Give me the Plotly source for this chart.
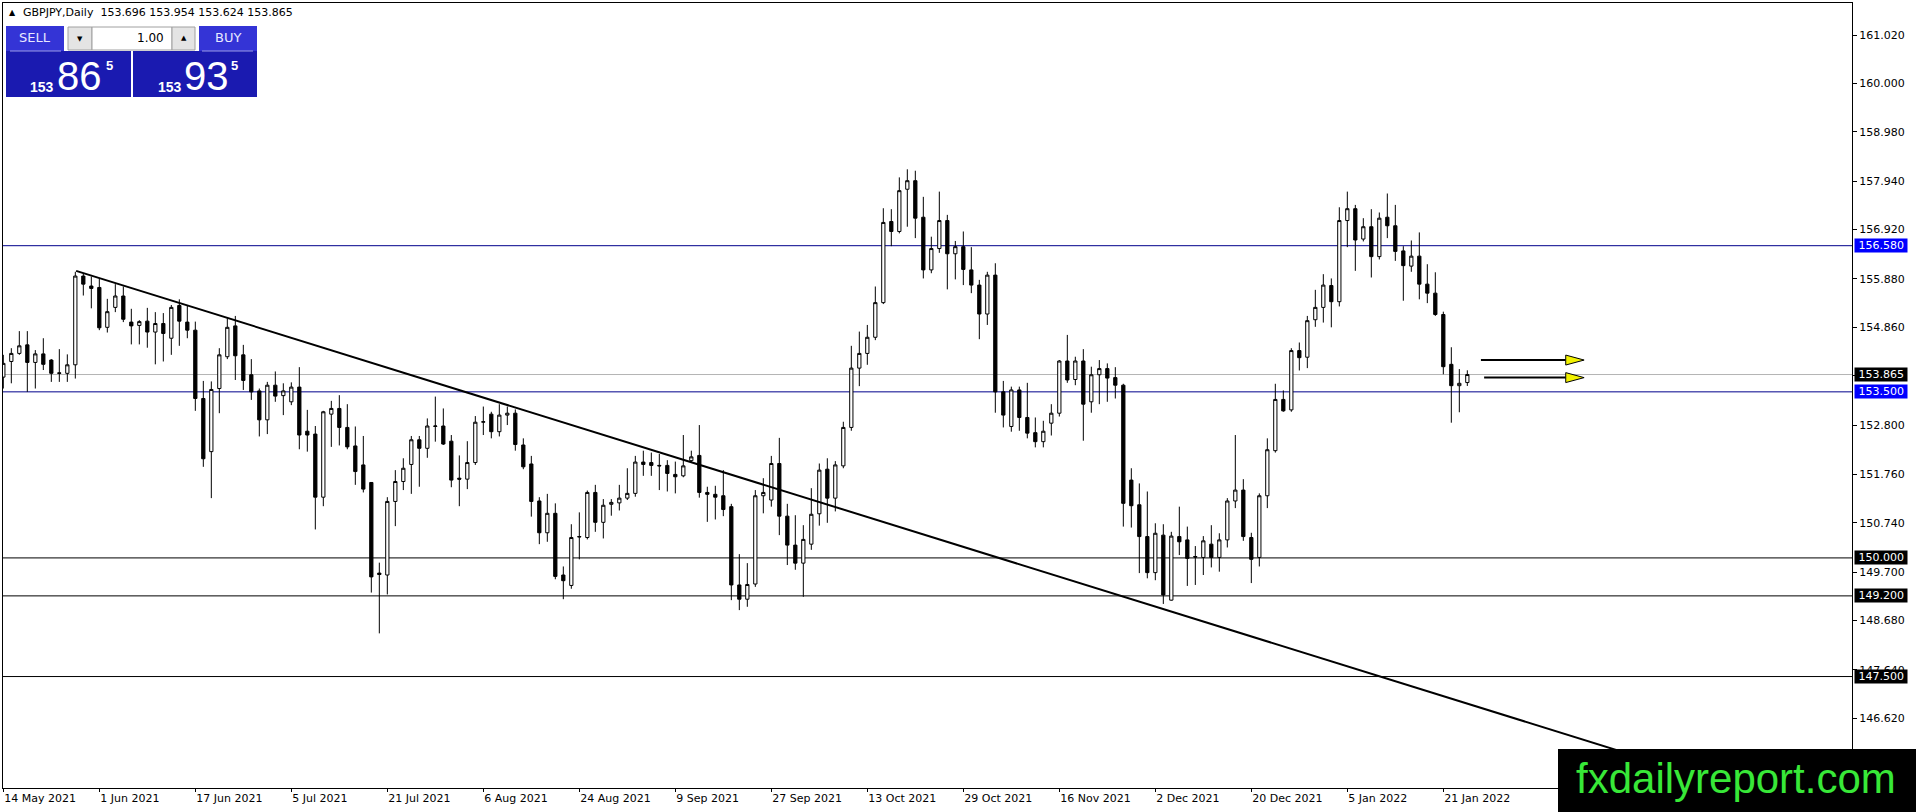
import pandas as pd
import plotly.graph_objects as go

# ---------------- data ----------------
start_date = "2021-05-14"

open_ = [153.81, 154.14, 154.31, 154.49, 154.12, 154.30, 154.17, 153.90, 153.89, 154.07,
         155.94, 155.73, 155.70, 154.86, 155.28, 155.52, 154.97, 154.90, 154.99, 154.76,
         154.94, 154.63, 155.32, 154.97, 154.80, 153.36, 152.24, 153.57, 154.24, 154.89,
         154.28, 153.86, 153.52, 152.91, 153.64, 153.42, 153.29, 153.60, 152.67, 152.61,
         151.28, 153.03, 153.15, 152.75, 152.36, 151.96, 151.59, 149.68, 149.64, 151.19,
         151.61, 151.97, 152.49, 152.31, 152.77, 152.78, 152.46, 151.68, 151.66, 152.01,
         152.86, 153.03, 152.66, 153.01, 153.05, 152.38, 151.98, 151.20, 150.53, 150.94,
         149.64, 149.42, 150.44, 150.43, 151.38, 150.75, 151.13, 151.16, 151.26, 151.36,
         152.02, 152.01, 151.95, 151.95, 151.76, 151.73, 152.05, 152.16, 151.38, 151.34,
         151.31, 151.08, 149.43, 149.13, 149.45, 151.31, 151.22, 151.99, 150.88, 150.27,
         149.89, 150.29, 150.93, 151.87, 151.26, 151.94, 152.75, 154.00, 154.31, 154.65,
         155.38, 157.09, 156.88, 157.77, 157.95, 157.18, 156.07, 156.52, 157.11, 156.41,
         156.56, 156.07, 155.75, 155.14, 155.96, 153.50, 152.77, 153.54, 152.96, 152.64,
         152.45, 152.84, 153.05, 154.15, 153.76, 154.15, 153.29, 153.86, 153.99, 153.80,
         153.64, 151.64, 151.12, 150.45, 149.69, 150.48, 149.11, 150.45, 150.38, 150.03,
         150.01, 150.29, 150.01, 150.38, 151.20, 151.43, 150.43, 150.01, 151.31, 152.26,
         153.34, 153.12, 154.37, 154.23, 155.02, 155.28, 155.74, 155.40, 157.11, 157.36,
         156.72, 156.98, 156.35, 157.18, 157.00, 156.47, 156.15, 156.36, 155.77, 155.58,
         155.13, 154.08, 153.63, 153.696]

high = [154.28, 154.42, 154.78, 154.78, 154.38, 154.63, 154.19, 154.40, 154.29, 156.03,
        156.00, 155.93, 155.88, 155.46, 155.77, 155.72, 155.25, 155.01, 155.27, 155.18,
        155.16, 155.33, 155.45, 155.32, 154.98, 153.73, 153.72, 154.42, 155.05, 155.10,
        154.49, 154.19, 153.57, 153.71, 153.93, 153.68, 153.70, 154.02, 153.12, 152.78,
        153.10, 153.31, 153.43, 153.24, 152.77, 152.57, 151.60, 149.90, 151.28, 151.85,
        152.10, 152.57, 152.57, 152.94, 153.40, 153.15, 152.59, 152.16, 152.46, 152.99,
        153.19, 153.08, 153.24, 153.19, 153.13, 152.52, 152.15, 151.28, 151.35, 151.15,
        149.82, 150.71, 150.96, 151.42, 151.54, 151.24, 151.24, 151.54, 151.89, 152.15,
        152.26, 152.22, 152.19, 152.06, 152.03, 152.59, 152.26, 152.80, 151.50, 151.52,
        151.85, 151.14, 150.08, 149.89, 151.43, 151.68, 152.15, 152.53, 151.14, 150.90,
        150.69, 151.47, 151.99, 152.10, 152.04, 152.87, 154.47, 154.77, 154.91, 155.72,
        157.37, 157.35, 158.02, 158.19, 158.16, 157.61, 156.77, 157.72, 157.23, 156.68,
        156.88, 156.55, 155.86, 156.03, 156.21, 153.73, 153.61, 153.61, 153.69, 152.96,
        152.89, 153.24, 154.17, 154.70, 154.24, 154.40, 154.03, 154.17, 154.10, 154.02,
        153.67, 151.89, 151.57, 151.40, 150.73, 150.71, 150.55, 151.08, 150.66, 150.25,
        150.46, 150.69, 150.52, 151.26, 152.59, 151.66, 150.53, 151.36, 152.52, 153.67,
        153.53, 154.42, 154.54, 155.10, 155.65, 155.98, 155.89, 157.39, 157.72, 157.44,
        157.16, 157.35, 157.28, 157.68, 157.44, 156.57, 156.69, 156.86, 156.19, 156.02,
        155.19, 154.44, 153.98, 153.954]

low = [153.57, 153.68, 154.28, 153.50, 153.57, 153.96, 153.71, 153.71, 153.71, 153.78,
       155.53, 155.26, 154.80, 154.75, 155.18, 154.97, 154.50, 154.50, 154.43, 154.08,
       154.14, 154.28, 154.47, 154.63, 153.10, 151.92, 151.26, 153.05, 154.19, 153.75,
       153.54, 153.33, 152.56, 152.61, 153.29, 153.01, 153.22, 152.29, 152.24, 150.60,
       151.09, 152.34, 152.37, 152.29, 151.54, 151.38, 149.27, 148.41, 149.23, 150.67,
       151.43, 151.35, 151.50, 152.11, 152.45, 152.38, 151.49, 151.09, 151.45, 151.96,
       152.59, 152.52, 152.56, 152.80, 152.26, 151.87, 150.87, 150.29, 150.34, 149.55,
       149.13, 149.35, 149.97, 150.39, 150.55, 150.41, 150.89, 151.00, 151.22, 151.29,
       151.73, 151.73, 151.43, 151.40, 151.36, 151.70, 152.01, 151.27, 150.76, 150.81,
       150.88, 149.11, 148.90, 148.97, 149.39, 150.94, 151.08, 150.48, 149.85, 149.75,
       149.18, 150.17, 150.68, 150.74, 150.98, 151.89, 152.68, 153.62, 154.07, 154.59,
       155.35, 156.57, 156.84, 156.98, 156.74, 155.89, 156.00, 156.43, 155.66, 155.87,
       155.75, 155.58, 154.61, 154.91, 153.06, 152.75, 152.66, 152.68, 152.52, 152.33,
       152.33, 152.58, 152.98, 153.69, 153.64, 152.47, 153.06, 153.24, 153.29, 153.36,
       150.66, 150.64, 149.68, 149.57, 149.53, 149.03, 149.10, 150.06, 149.41, 149.43,
       149.64, 149.80, 149.71, 150.22, 151.05, 150.36, 149.47, 149.82, 151.05, 152.22,
       153.08, 153.08, 153.95, 154.00, 154.87, 154.96, 154.86, 155.30, 156.55, 156.05,
       156.67, 155.91, 156.29, 156.74, 156.26, 155.42, 156.03, 155.45, 155.37, 155.10,
       153.87, 152.85, 153.07, 153.624]

close = [154.10, 154.31, 154.47, 154.12, 154.30, 154.08, 153.89, 153.89, 154.07, 155.94,
         155.77, 155.68, 154.85, 155.19, 155.52, 155.03, 154.89, 154.98, 154.76, 154.94,
         154.73, 155.28, 154.99, 154.80, 153.36, 152.09, 153.55, 154.28, 154.86, 154.26,
         153.74, 153.50, 152.91, 153.64, 153.41, 153.52, 153.60, 152.59, 152.59, 151.28,
         153.08, 153.15, 152.75, 152.34, 151.82, 151.45, 149.60, 149.65, 151.19, 151.61,
         151.89, 152.49, 152.31, 152.78, 152.78, 152.40, 151.64, 151.66, 152.01, 152.86,
         152.87, 152.66, 153.01, 153.05, 152.39, 151.92, 151.19, 150.53, 150.94, 149.61,
         149.52, 150.43, 150.45, 151.38, 150.75, 151.11, 151.17, 151.26, 151.36, 152.02,
         151.97, 151.95, 151.94, 151.78, 151.71, 151.94, 152.13, 151.38, 151.34, 151.28,
         151.02, 149.43, 149.13, 149.44, 151.31, 151.38, 151.99, 150.88, 150.27, 149.89,
         150.39, 150.92, 151.85, 151.26, 151.96, 152.75, 154.00, 154.31, 154.65, 155.38,
         157.07, 156.88, 157.74, 157.95, 157.16, 156.07, 156.52, 157.11, 156.41, 156.56,
         156.08, 155.75, 155.14, 155.96, 153.50, 153.01, 153.54, 152.96, 152.63, 152.45,
         152.67, 153.05, 154.15, 153.75, 154.15, 153.24, 153.86, 153.99, 153.79, 153.64,
         151.15, 151.10, 150.45, 149.69, 150.52, 149.22, 150.46, 150.34, 149.99, 150.02,
         150.36, 150.01, 150.38, 151.20, 151.43, 150.45, 149.97, 151.31, 152.28, 153.34,
         153.10, 154.37, 154.22, 155.00, 155.28, 155.75, 155.40, 157.11, 157.36, 156.70,
         156.98, 156.35, 157.16, 157.00, 156.46, 156.16, 156.36, 155.77, 155.58, 155.13,
         154.03, 153.63, 153.68, 153.865]

tick_idx = [0, 12, 24, 36, 48, 60, 72, 84, 96, 108, 120, 132, 144, 156, 168, 180]
tick_labels = ["14 May 2021", "1 Jun 2021", "17 Jun 2021", "5 Jul 2021", "21 Jul 2021",
               "6 Aug 2021", "24 Aug 2021", "9 Sep 2021", "27 Sep 2021", "13 Oct 2021",
               "29 Oct 2021", "16 Nov 2021", "2 Dec 2021", "20 Dec 2021", "5 Jan 2022",
               "21 Jan 2022"]

y_ticks = [161.02, 160.00, 158.98, 157.94, 156.92, 155.88, 154.86, 153.84,
           152.80, 151.76, 150.74, 149.70, 148.68, 147.64, 146.62]
y_ticktext = ["161.020", "160.000", "158.980", "157.940", "156.920", "155.880", "154.860", "",
              "152.800", "151.760", "150.740", "149.700", "148.680", "147.640", "146.620"]

blue_levels = [156.580, 153.500]
black_levels = [150.000, 149.200, 147.500]
bid_price = 153.865

trend_x = [9.1, 215.0]
trend_y = [156.05, 145.25]

arrow_x0 = [184.7, 185.1]
arrow_xbase = [195.3, 195.3]
arrow_xtip = [197.6, 197.6]
arrow_y = [154.17, 153.80]

header_text = "GBPJPY,Daily\u00a0\u00a0153.696 153.954 153.624 153.865"

# ---------------- figure ----------------
dates = pd.bdate_range(start_date, periods=len(close))
x = list(range(len(dates)))

W, H = 1916, 812
ML, MR, MT, MB = 3, 64, 3, 24
PW, PH = W - ML - MR, H - MT - MB
X_RANGE = [-0.04, (W - MR - ML) / 8.0 - 0.04]
Y_RANGE = [145.151, 161.695]


def pxx(p):
    return (p - ML) / PW


def pxy(p):
    return (H - MB - p) / PH


fig = go.Figure()

fig.add_trace(go.Candlestick(
    x=x, open=open_, high=high, low=low, close=close,
    increasing=dict(line=dict(color="black", width=1), fillcolor="white"),
    decreasing=dict(line=dict(color="black", width=1), fillcolor="black"),
    whiskerwidth=0, showlegend=False, hoverinfo="skip",
))

fig.add_trace(go.Scatter(
    x=trend_x, y=trend_y, mode="lines",
    line=dict(color="black", width=2), showlegend=False, hoverinfo="skip",
))

shapes = []
for lv in blue_levels:
    shapes.append(dict(type="line", xref="paper", yref="y", x0=0, x1=1, y0=lv, y1=lv,
                       line=dict(color="#00008c", width=1), layer="below"))
for lv in black_levels:
    shapes.append(dict(type="line", xref="paper", yref="y", x0=0, x1=1, y0=lv, y1=lv,
                       line=dict(color="black", width=1), layer="below"))
shapes.append(dict(type="line", xref="paper", yref="y", x0=0, x1=1, y0=bid_price, y1=bid_price,
                   line=dict(color="#b4b4b4", width=1), layer="below"))

# arrows (black shaft + yellow head)
half_h = 0.105
for x0, xb, xt, yv in zip(arrow_x0, arrow_xbase, arrow_xtip, arrow_y):
    shapes.append(dict(type="line", xref="x", yref="y", x0=x0, x1=xb, y0=yv, y1=yv,
                       line=dict(color="black", width=2), layer="above"))
    shapes.append(dict(type="path", xref="x", yref="y",
                       path=f"M {xb},{yv - half_h} L {xt},{yv} L {xb},{yv + half_h} Z",
                       fillcolor="#f2f200", line=dict(color="black", width=1), layer="above"))


def rect(x0, y0, x1, y1, fill, line=None):
    shapes.append(dict(type="rect", xref="paper", yref="paper",
                       x0=pxx(x0), x1=pxx(x1), y0=pxy(y1), y1=pxy(y0),
                       fillcolor=fill,
                       line=dict(color=line if line else fill, width=1 if line else 0),
                       layer="above"))


def hline_px(x0, x1, y, color):
    shapes.append(dict(type="line", xref="paper", yref="paper",
                       x0=pxx(x0), x1=pxx(x1), y0=pxy(y), y1=pxy(y),
                       line=dict(color=color, width=1), layer="above"))


# one-click trading panel
rect(6, 51, 131, 97, "#1a1ab0")
rect(133, 51, 257, 97, "#1a1ab0")
rect(6, 26, 64, 51, "#3434d6")
rect(199, 26, 257, 51, "#3434d6")
hline_px(10, 61, 51, "#9a9ae6")
hline_px(202, 253, 51, "#9a9ae6")
rect(68, 27, 92, 50, "#e4e4e4", "#a0a0a0")
rect(92, 27, 172, 50, "white", "#a0a0a0")
rect(172, 27, 195, 50, "#e4e4e4", "#a0a0a0")

# watermark box
shapes.append(dict(type="rect", xref="paper", yref="paper",
                   x0=pxx(1558), x1=pxx(1916), y0=pxy(812), y1=pxy(749),
                   fillcolor="black", line=dict(width=0), layer="above"))

annotations = []


def text(xp, yp, s, size, color, family="DejaVu Sans", anchor="center", weight="normal"):
    annotations.append(dict(xref="paper", yref="paper", x=pxx(xp), y=pxy(yp), text=s,
                            showarrow=False, xanchor=anchor, yanchor="middle",
                            font=dict(family=family, size=size, color=color, weight=weight)))


# header
text(7, 13, "\u25b2", 8, "black", anchor="left")
text(21, 13, header_text, 11, "black", anchor="left")

# panel texts
text(35, 38, "SELL", 13, "#e8e8ff")
text(228, 38, "BUY", 13, "#e8e8ff")
text(166, 38, "1.00", 12, "black", anchor="right")
text(80, 39, "\u25bc", 7, "black")
text(183.5, 38, "\u25b2", 7, "black")
text(42, 87, "153", 14, "white", family="Liberation Sans", weight="bold")
text(79.5, 76, "86", 40, "white", family="Liberation Sans")
text(109, 66, "5", 13, "white", family="Liberation Sans", weight="bold")
text(170, 87, "153", 14, "white", family="Liberation Sans", weight="bold")
text(206.5, 76, "93", 40, "white", family="Liberation Sans")
text(235, 66, "5", 13, "white", family="Liberation Sans", weight="bold")

# watermark text
text(1736, 778, "fxdailyreport.com", 42, "#38e838", family="Liberation Sans")

# price labels on the right axis
label_specs = [(156.580, "#0000ff"), (bid_price, "black"), (153.500, "#0000ff"),
               (150.000, "black"), (149.200, "black"), (147.500, "black")]
for lv, bg in label_specs:
    annotations.append(dict(xref="paper", yref="y", x=1, y=lv, xanchor="left", yanchor="middle",
                            xshift=2, text=f"\u00a0{lv:.3f}\u00a0", showarrow=False,
                            bgcolor=bg, borderpad=0,
                            font=dict(family="DejaVu Sans", size=11, color="white")))

fig.update_layout(
    width=W, height=H,
    margin=dict(l=ML, r=MR, t=MT, b=MB, autoexpand=False),
    paper_bgcolor="white", plot_bgcolor="white",
    showlegend=False, boxgap=0.42,
    shapes=shapes, annotations=annotations,
    xaxis=dict(range=X_RANGE, rangeslider=dict(visible=False), showgrid=False, zeroline=False,
               showline=True, mirror=True, linecolor="black", linewidth=1,
               tickmode="array", tickvals=tick_idx, ticktext=tick_labels,
               ticks="outside", ticklen=3, tickcolor="black",
               ticklabelposition="outside right",
               tickfont=dict(family="DejaVu Sans", size=11, color="black")),
    yaxis=dict(range=Y_RANGE, side="right", showgrid=False, zeroline=False,
               showline=True, mirror=True, linecolor="black", linewidth=1,
               tickmode="array", tickvals=y_ticks, ticktext=y_ticktext,
               ticks="outside", ticklen=4, tickcolor="black",
               tickfont=dict(family="DejaVu Sans", size=11, color="black")),
)

fig.write_html("out.html", config={"displayModeBar": False},
               post_script="document.body.style.margin='0';")
